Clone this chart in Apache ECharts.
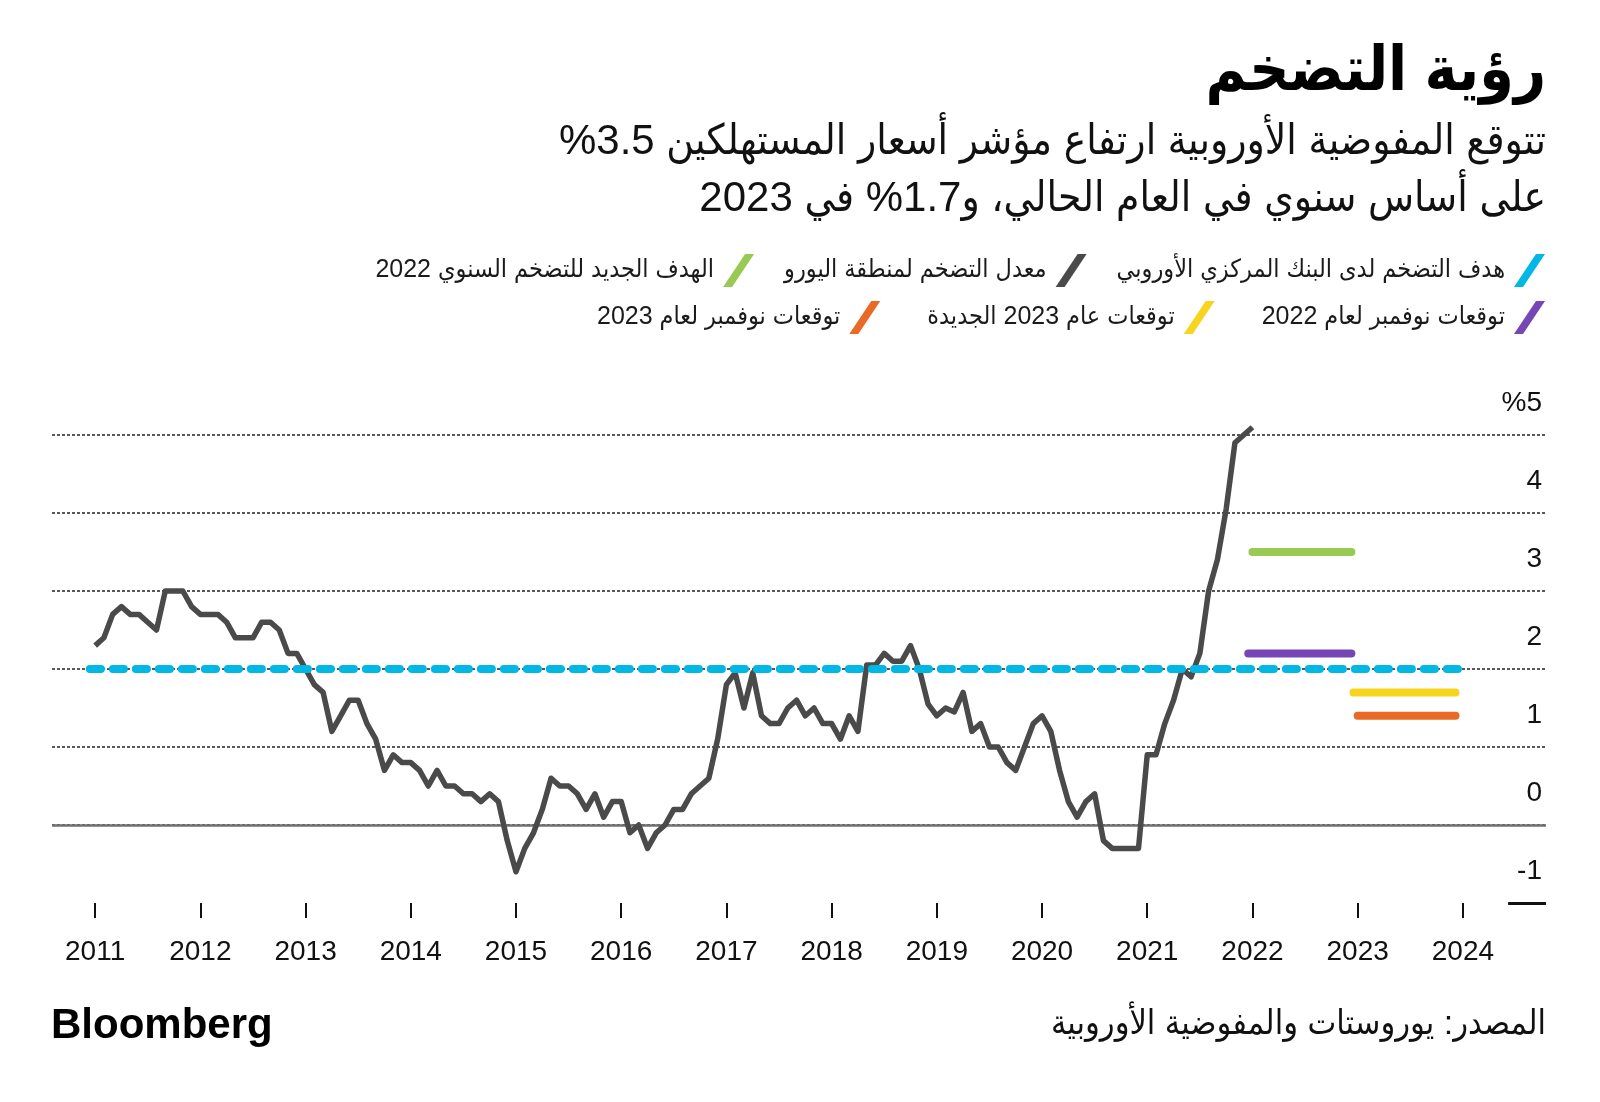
<!DOCTYPE html>
<html>
<head>
<meta charset="utf-8">
<script src="https://cdn.jsdelivr.net/npm/echarts@6/dist/echarts.min.js"></script>
<style>
html,body{margin:0;padding:0;background:#fff}
#c{width:1600px;height:1102px}
</style>
</head>
<body>
<div id="c"></div>
<script>
// ---------- DATA ----------
const startYear = 2011; // first monthly observation: Jan 2011
const hicp2011 = [2.3, 2.4, 2.7, 2.8, 2.7, 2.7, 2.6, 2.5, 3.0, 3.0, 3.0, 2.8];
const hicp2012 = [2.7, 2.7, 2.7, 2.6, 2.4, 2.4, 2.4, 2.6, 2.6, 2.5, 2.2, 2.2];
const hicp2013 = [2.0, 1.8, 1.7, 1.2, 1.4, 1.6, 1.6, 1.3, 1.1, 0.7, 0.9, 0.8];
const hicp2014 = [0.8, 0.7, 0.5, 0.7, 0.5, 0.5, 0.4, 0.4, 0.3, 0.4, 0.3, -0.2];
const hicp2015 = [-0.6, -0.3, -0.1, 0.2, 0.6, 0.5, 0.5, 0.4, 0.2, 0.4, 0.1, 0.3];
const hicp2016 = [0.3, -0.1, 0.0, -0.3, -0.1, 0.0, 0.2, 0.2, 0.4, 0.5, 0.6, 1.1];
const hicp2017 = [1.8, 1.95, 1.5, 1.95, 1.4, 1.3, 1.3, 1.5, 1.6, 1.4, 1.5, 1.3];
const hicp2018 = [1.3, 1.1, 1.4, 1.2, 2.05, 2.05, 2.2, 2.1, 2.1, 2.3, 2.0, 1.55];
const hicp2019 = [1.4, 1.5, 1.45, 1.7, 1.2, 1.3, 1.0, 1.0, 0.8, 0.7, 1.0, 1.3];
const hicp2020 = [1.4, 1.2, 0.7, 0.3, 0.1, 0.3, 0.4, -0.2, -0.3, -0.3, -0.3, -0.3];
const hicp2021 = [0.9, 0.9, 1.3, 1.6, 2.0, 1.9, 2.2, 3.0, 3.4, 4.05, 4.9, 5.0];
const hicp2022 = [5.1];

const ecbTarget = 2.0;
const ecbTargetSpan = [2010.95, 2024.0];
const newTarget2022 = 3.5;
const newTarget2022Span = [2022.0, 2022.94];
const novForecast2022 = 2.2;
const novForecast2022Span = [2021.96, 2022.94];
const newForecast2023 = 1.7;
const newForecast2023Span = [2022.96, 2023.93];
const novForecast2023 = 1.4;
const novForecast2023Span = [2023.0, 2023.93];

const yearTicks = [2011, 2012, 2013, 2014, 2015, 2016, 2017, 2018, 2019, 2020, 2021, 2022, 2023, 2024];

const names = {
  target: 'هدف التضخم لدى البنك المركزي الأوروبي',
  hicp: 'معدل التضخم لمنطقة اليورو',
  newTarget: 'الهدف الجديد للتضخم السنوي 2022',
  nov22: 'توقعات نوفمبر لعام 2022',
  new23: 'توقعات عام 2023 الجديدة',
  nov23: 'توقعات نوفمبر لعام 2023'
};
const titleText = 'رؤية التضخم';
const subtitle1 = 'تتوقع المفوضية الأوروبية ارتفاع مؤشر أسعار المستهلكين 3.5%';
const subtitle2 = 'على أساس سنوي في العام الحالي، و1.7% في 2023';
const sourceText = 'المصدر: يوروستات والمفوضية الأوروبية';

// ---------- BUILD ----------
const monthly = [].concat(hicp2011, hicp2012, hicp2013, hicp2014, hicp2015, hicp2016,
  hicp2017, hicp2018, hicp2019, hicp2020, hicp2021, hicp2022);
const hicpData = monthly.map((v, i) => [startYear + i / 12, v]);
const seg = (span, v) => [[span[0], v], [span[1], v]];

const rtl = s => '\u202B' + s + '\u202C';
const AR = '"Liberation Sans","DejaVu Sans Condensed","DejaVu Sans",sans-serif';
const LAT = '"Liberation Sans",Arial,sans-serif';

const C = {
  target: '#00b8e3', hicp: '#4a4a4a', newTarget: '#97c953',
  nov22: '#7646b5', new23: '#f7d51f', nov23: '#e96a24'
};
const slash = 'path://M0,33 L9,33 L31,0 L22,0 Z';

const legendBase = {
  orient: 'horizontal', align: 'right', right: 50,
  itemWidth: 31, itemHeight: 33, icon: slash,
  formatter: rtl,
  itemStyle: { borderWidth: 0 },
  textStyle: { fontFamily: AR, fontSize: 25, color: '#1a1a1a', padding: [0, 4, 0, 0] },
  selectedMode: false
};

const chart = echarts.init(document.getElementById('c'), null, { renderer: 'canvas' });
chart.setOption({
  animation: false,
  backgroundColor: '#fff',
  grid: { left: 52, right: 54, top: 435, bottom: 199, containLabel: false },
  xAxis: {
    type: 'value', min: 2010.59, max: 2024.79,
    axisLine: { show: false, onZero: false },
    splitLine: { show: false },
    axisTick: { show: true, customValues: yearTicks, length: 15, lineStyle: { color: '#111', width: 2 } },
    axisLabel: { customValues: yearTicks, formatter: v => String(Math.round(v)), margin: 35,
      fontFamily: LAT, fontSize: 28, color: '#111' }
  },
  yAxis: {
    type: 'value', position: 'right', min: -1, max: 5, interval: 1,
    axisLine: { show: false }, axisTick: { show: false },
    splitLine: { show: true, showMinLine: false, lineStyle: { color: '#222', width: 1.5, type: [3, 2] } },
    axisLabel: { inside: true, margin: 4, fontFamily: LAT, fontSize: 28, color: '#111',
      verticalAlign: 'bottom', lineHeight: 64,
      formatter: v => v === 5 ? '%5' : String(v) }
  },
  legend: [
    Object.assign({}, legendBase, { top: 249, itemGap: 30,
      data: [names.newTarget, names.hicp, names.target] }),
    Object.assign({}, legendBase, { top: 296, itemGap: 47,
      data: [names.nov23, names.new23, names.nov22] })
  ],
  graphic: [
    { type: 'text', right: 54, top: 42, style: { text: rtl(titleText), font: 'bold 62px ' + AR, fill: '#000' } },
    { type: 'text', right: 54, top: 121, style: { text: rtl(subtitle1), font: '42px ' + AR, fill: '#111' } },
    { type: 'text', right: 54, top: 178, style: { text: rtl(subtitle2), font: '42px ' + AR, fill: '#111' } },
    { type: 'text', left: 51, top: 1005, style: { text: 'Bloomberg', font: 'bold 42px ' + LAT, fill: '#000' } },
    { type: 'text', right: 54, top: 1008, style: { text: rtl(sourceText), font: '34px ' + AR, fill: '#111' } }
  ],
  series: [
    {
      name: names.hicp, type: 'line', data: hicpData, showSymbol: false, clip: false, z: 3,
      itemStyle: { color: C.hicp },
      lineStyle: { color: C.hicp, width: 5.5, join: 'round' },
      markLine: {
        silent: true, symbol: ['none', 'none'], z: 1, label: { show: false },
        lineStyle: { color: '#707070', width: 2.5, type: 'solid' },
        data: [
          { yAxis: 0 },
          [{ coord: [2024.43, -1], lineStyle: { color: '#111', width: 3, type: 'solid' } }, { coord: [2024.79, -1] }]
        ]
      }
    },
    { name: names.newTarget, type: 'line', data: seg(newTarget2022Span, newTarget2022), showSymbol: false, z: 4,
      itemStyle: { color: C.newTarget }, lineStyle: { color: C.newTarget, width: 8, cap: 'round' } },
    { name: names.nov22, type: 'line', data: seg(novForecast2022Span, novForecast2022), showSymbol: false, z: 4,
      itemStyle: { color: C.nov22 }, lineStyle: { color: C.nov22, width: 8, cap: 'round' } },
    { name: names.new23, type: 'line', data: seg(newForecast2023Span, newForecast2023), showSymbol: false, z: 4,
      itemStyle: { color: C.new23 }, lineStyle: { color: C.new23, width: 8, cap: 'round' } },
    { name: names.nov23, type: 'line', data: seg(novForecast2023Span, novForecast2023), showSymbol: false, z: 4,
      itemStyle: { color: C.nov23 }, lineStyle: { color: C.nov23, width: 8, cap: 'round' } },
    { name: names.target, type: 'line', data: seg(ecbTargetSpan, ecbTarget), showSymbol: false, z: 5,
      itemStyle: { color: C.target }, lineStyle: { color: C.target, width: 8, type: [11, 12], cap: 'round' } }
  ]
});
</script>
</body>
</html>
